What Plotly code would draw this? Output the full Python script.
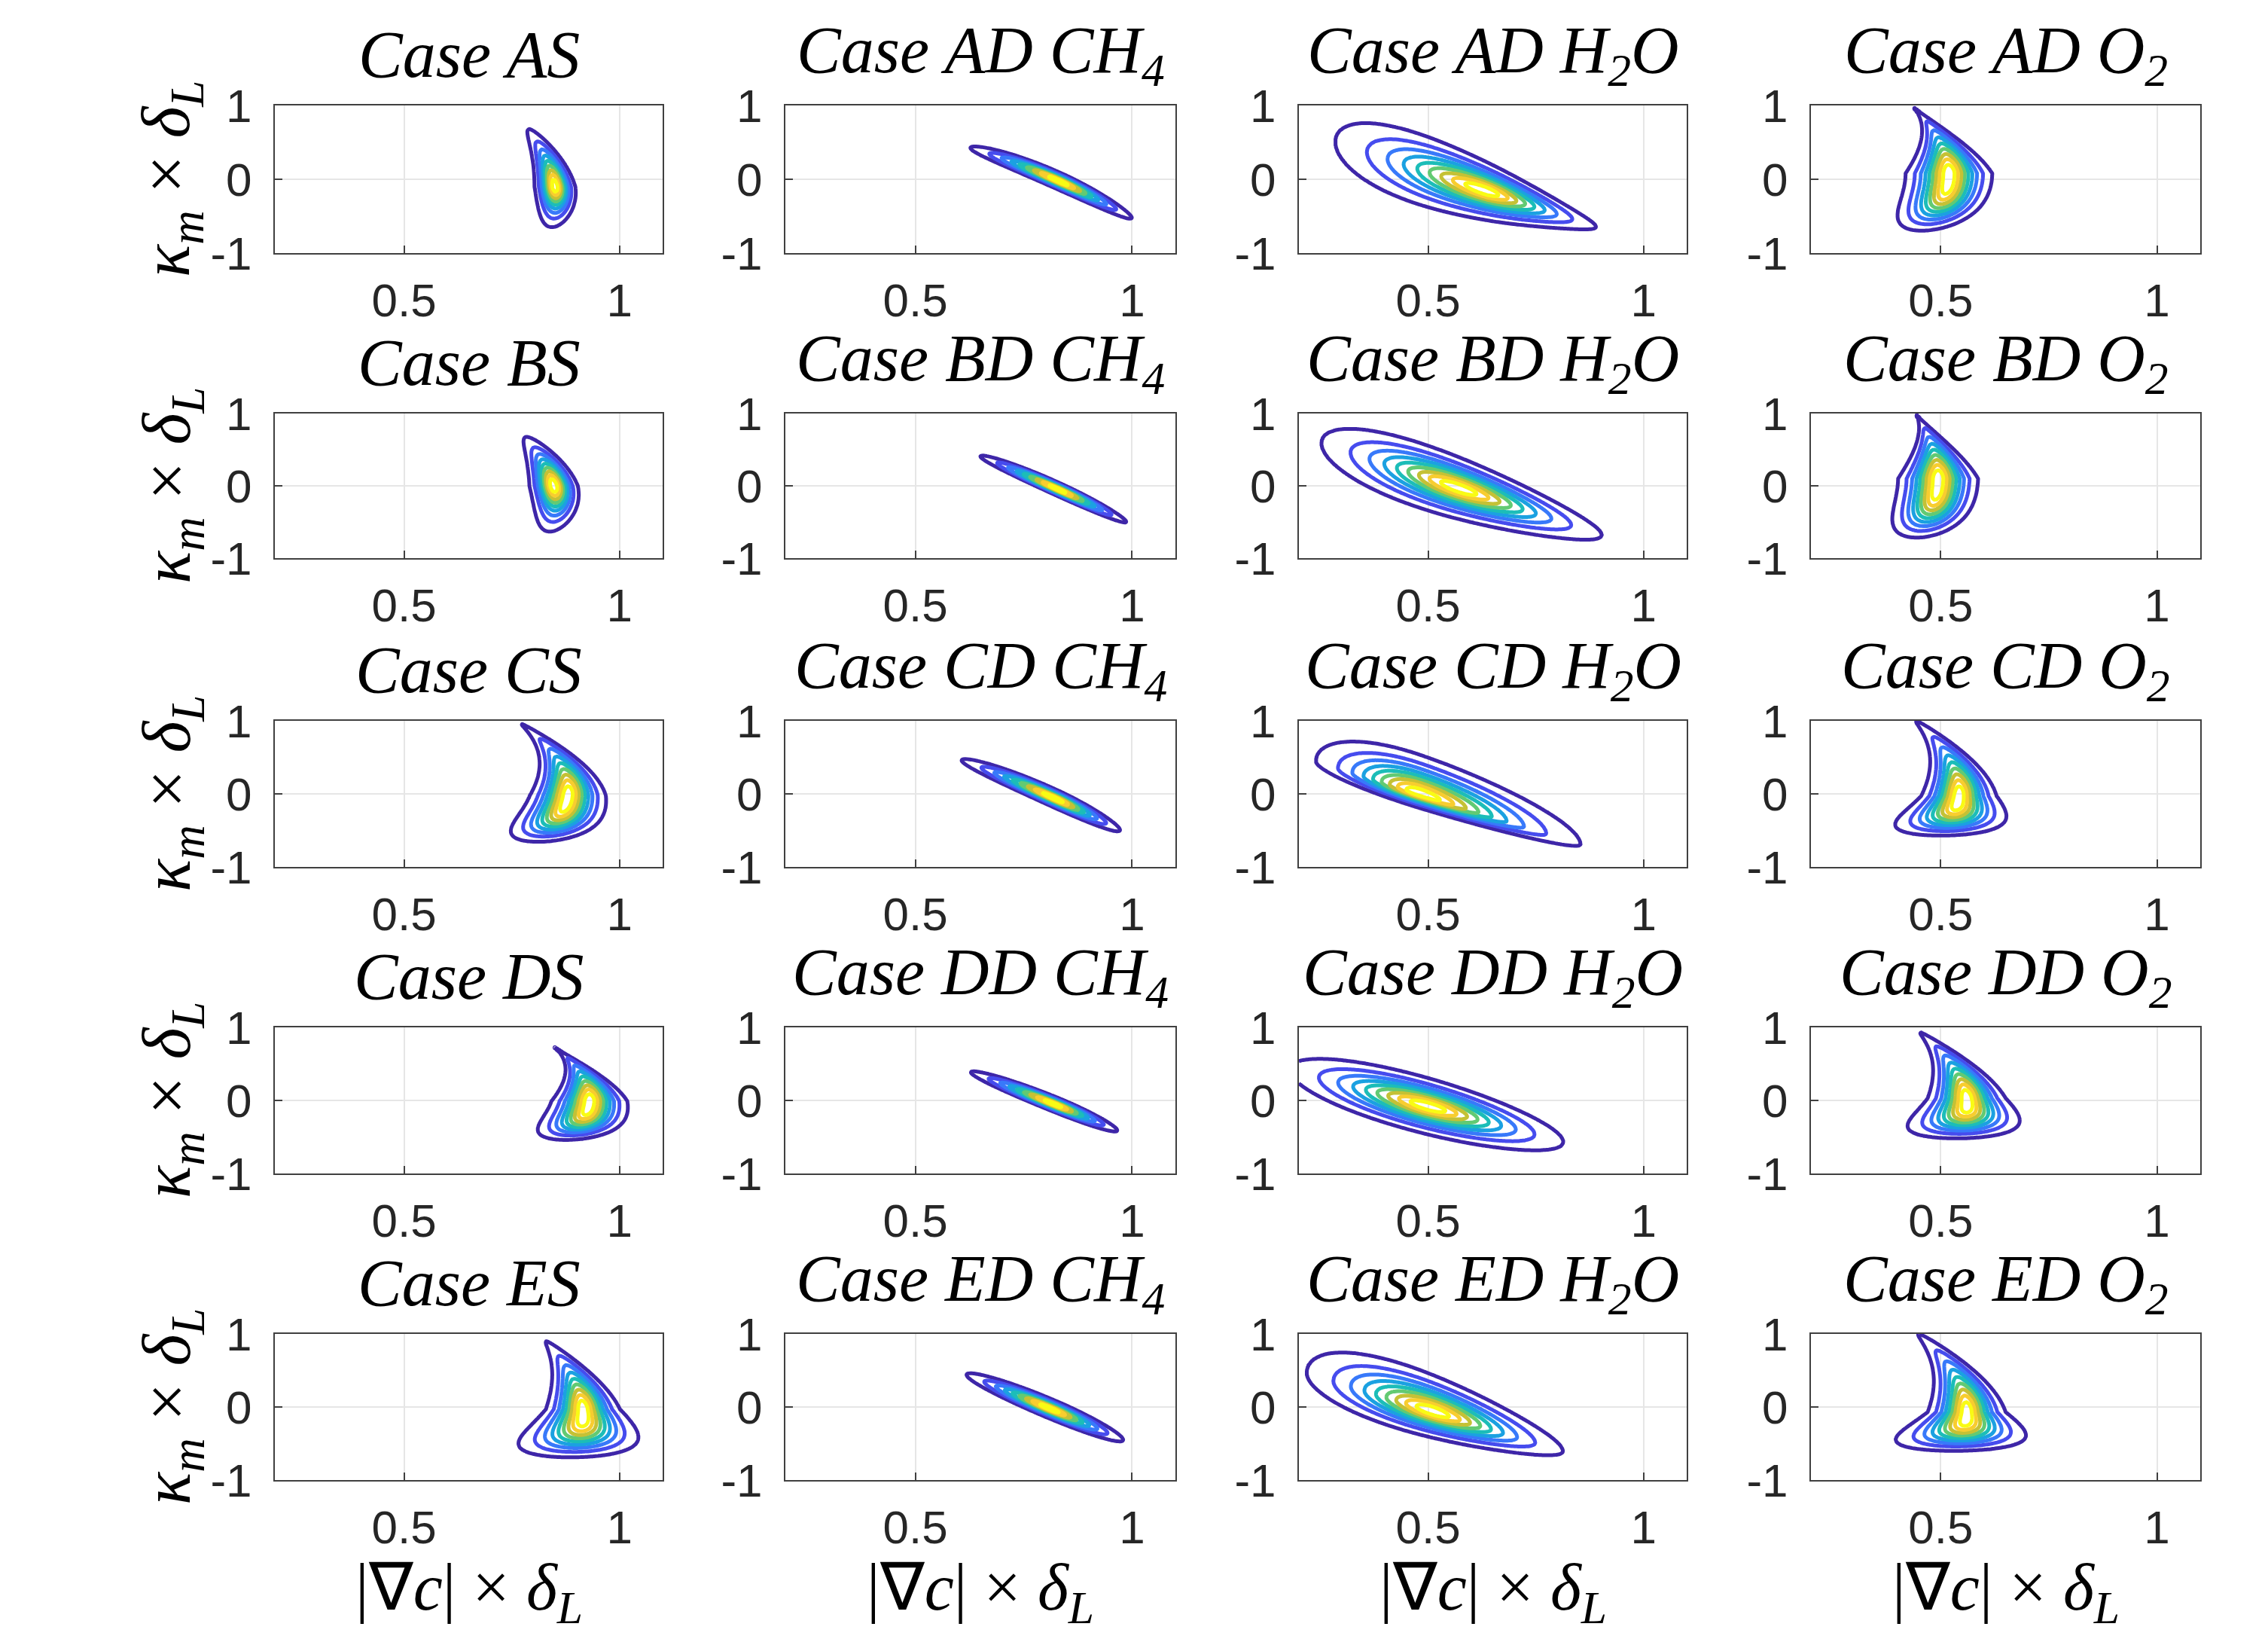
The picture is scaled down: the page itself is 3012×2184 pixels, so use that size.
import numpy as np
import plotly.graph_objects as go

W, H = 3012, 2184
PAGE_OFFSET = 8  # default page margin of the browser body, in px

# ---------------- data ----------------
ROW_CASES = ["A", "B", "C", "D", "E"]
COL_SPECIES = ["S", "D CH<sub>4</sub>", "D H<sub>2</sub>O", "D O<sub>2</sub>"]

# Joint-PDF shape descriptors, panel order row by row (AS, AD CH4, AD H2O, AD O2, BS, ...).
# ORIENT: variable along which the cloud is elongated ("y": vertical clouds, "x": diagonal clouds)
ORIENT = ["y", "x", "x", "y",
          "y", "x", "x", "y",
          "y", "x", "x", "y",
          "y", "x", "x", "y",
          "y", "x", "x", "y"]
PEAK_X = [0.85, 0.832, 0.63, 0.519,
          0.847, 0.83, 0.57, 0.494,
          0.88, 0.821, 0.48, 0.542,
          0.93, 0.82, 0.50, 0.56,
          0.915, 0.81, 0.51, 0.56]
PEAK_Y = [-0.10, -0.026, -0.15, 0.08,
          0.0, -0.05, -0.03, 0.10,
          -0.02, -0.06, 0.0, -0.03,
          -0.01, -0.05, -0.08, 0.03,
          -0.03, -0.02, -0.06, -0.07]
ALONG_LO = [0.256, 0.0955, 0.161, 0.53,
            0.294, 0.084, 0.148, 0.557,
            0.434, 0.0997, 0.112, 0.369,
            0.362, 0.0895, 0.15, 0.375,
            0.45, 0.0895, 0.136, 0.362]
ALONG_HI = [0.363, 0.078, 0.121, 0.42,
            0.314, 0.073, 0.155, 0.415,
            0.459, 0.0704, 0.174, 0.48,
            0.352, 0.068, 0.146, 0.421,
            0.433, 0.079, 0.141, 0.50]
ALONG_LO_POWER = [2, 2, 2, 4,
                  2, 2, 2, 4,
                  4, 2, 2, 4,
                  4, 2, 2, 4,
                  4, 2, 2, 4]
RIDGE_SLOPE = [-0.0244, -2.62, -1.9, 0.0012,
               -0.0373, -2.71, -1.95, 0.0045,
               0.0234, -2.69, -1.85, 0.018,
               0.0145, -2.38, -1.55, -0.018,
               -0.0123, -2.47, -1.8, 0.0035]
RIDGE_BEND = [-0.0674, -2.04, 0.0, -0.1037,
              -0.0814, -0.93, 0.0, -0.0694,
              -0.1362, -1.23, 0.0, -0.1108,
              -0.1685, -0.59, 0.0, -0.112,
              -0.0851, -0.37, 0.0, -0.1002]
ACROSS_LO = [0.022, 0.056, 0.186, 0.0466,
             0.026, 0.045, 0.20, 0.043,
             0.041, 0.06, 0.09, 0.0406,
             0.041, 0.05, 0.18, 0.042,
             0.040, 0.065, 0.168, 0.042]
ACROSS_HI = [0.022, 0.056, 0.186, 0.0466,
             0.026, 0.045, 0.20, 0.043,
             0.041, 0.06, 0.25, 0.0406,
             0.041, 0.05, 0.18, 0.042,
             0.040, 0.065, 0.233, 0.042]
TAPER_HI = [0.51, 0.0, 2.2, 1.1,
            0.5, 0.0, 1.0, 1.1,
            0.85, 0.0, 0.3, 0.75,
            1.35, 0.0, 0.3, 0.88,
            0.79, 0.0, 1.1, 0.67]
TAPER_LO = [0.0, 0.0, 2.2, 0.0,
            0.0, 0.0, 1.0, 0.0,
            0.5, 0.0, 0.3, 1.68,
            0.5, 0.0, 0.3, 1.6,
            1.8, 0.0, 1.1, 2.4]
PDF_TAIL_EXPONENT = 1.5   # <2: heavier tails than a Gaussian (contours spread inwards)

X_TICKS = [0.5, 1]
X_TICK_TEXT = ["0.5", "1"]
Y_TICKS = [-1, 0, 1]
Y_TICK_TEXT = ["-1", "0", "1"]
X_RANGE = [0.2, 1.1]
Y_RANGE = [-1, 1]
LEVELS = dict(start=0.1, end=0.9, size=0.1)

PARULA = [[0.0, "#3e26a8"], [0.111, "#4747eb"], [0.222, "#3e6fff"],
          [0.333, "#2796eb"], [0.444, "#08b4d0"], [0.556, "#31c69f"],
          [0.667, "#80cc59"], [0.778, "#dcbd29"], [0.889, "#fccf30"],
          [1.0, "#f9fb14"]]

# ---------------- layout geometry (pixels in the reference) ----------------
COL_PX = [(365, 880), (1043, 1561), (1725, 2240), (2405, 2922)]
ROW_PX = [(140, 336), (549, 741), (957, 1151), (1364, 1558), (1771, 1965)]

xg = np.linspace(X_RANGE[0], X_RANGE[1], 181)
yg = np.linspace(Y_RANGE[0], Y_RANGE[1], 201)
XX, YY = np.meshgrid(xg, yg)
Q_OUTER = 2 * np.log(10.0)


def pdf_field(i):
    if ORIENT[i] == "y":
        along, across, a0, c0 = YY, XX, PEAK_Y[i], PEAK_X[i]
    else:
        along, across, a0, c0 = XX, YY, PEAK_X[i], PEAK_Y[i]
    d = along - a0
    q_lo = np.abs(d / ALONG_LO[i]) ** ALONG_LO_POWER[i]
    q_hi = (d / ALONG_HI[i]) ** 2
    q_along = np.where(d >= 0, q_hi, q_lo)
    widen = np.clip(1 - TAPER_HI[i] * np.maximum(d, 0)
                    + TAPER_LO[i] * np.maximum(-d, 0), 0.1, None)
    centre = c0 + RIDGE_SLOPE[i] * d + RIDGE_BEND[i] * d ** 2
    off = across - centre
    s = np.where(off >= 0, ACROSS_HI[i], ACROSS_LO[i]) * widen
    q = q_along + (off / s) ** 2
    z = np.exp(-0.5 * Q_OUTER * (q / Q_OUTER) ** (PDF_TAIL_EXPONENT / 2))
    return np.round(z / z.max(), 3)


def fx(px):
    return (px - PAGE_OFFSET) / W


def fy(py):
    return 1 - (py - PAGE_OFFSET) / H


fig = go.Figure()
layout = dict(width=W, height=H, margin=dict(l=0, r=0, t=0, b=0, autoexpand=False),
              paper_bgcolor="white", plot_bgcolor="white", showlegend=False)
annotations = []

AX_COLOR = "#404040"
TICK_FONT = dict(family="Liberation Sans, Arial", size=62, color="#262626")
SERIF = "Liberation Serif, Times New Roman, serif"

for r in range(5):
    for c in range(4):
        i = r * 4 + c
        k = i + 1
        xs = "" if k == 1 else str(k)
        x0, x1 = COL_PX[c]
        y0, y1 = ROW_PX[r]
        layout["xaxis" + xs] = dict(
            domain=[fx(x0), fx(x1)], anchor="y" + xs, range=X_RANGE, automargin=False,
            tickvals=X_TICKS, ticktext=X_TICK_TEXT, tickfont=TICK_FONT,
            showgrid=True, gridcolor="#e6e6e6", gridwidth=2, zeroline=False,
            showline=True, mirror=True, linecolor=AX_COLOR, linewidth=2,
            ticks="inside", ticklen=10, tickwidth=2, tickcolor=AX_COLOR,
            ticklabelstandoff=8)
        layout["yaxis" + xs] = dict(
            domain=[fy(y1), fy(y0)], anchor="x" + xs, range=Y_RANGE, automargin=False,
            tickvals=Y_TICKS, ticktext=Y_TICK_TEXT, tickfont=TICK_FONT,
            showgrid=True, gridcolor="#e6e6e6", gridwidth=2, zeroline=False,
            showline=True, mirror=True, linecolor=AX_COLOR, linewidth=2,
            ticks="inside", ticklen=10, tickwidth=2, tickcolor=AX_COLOR,
            ticklabelstandoff=16)
        fig.add_trace(go.Contour(
            x=xg, y=yg, z=pdf_field(i), xaxis="x" + xs, yaxis="y" + xs,
            contours=dict(coloring="lines", **LEVELS), autocontour=False,
            colorscale=PARULA, zmin=0.0, zmax=0.95, showscale=False,
            line=dict(width=5), hoverinfo="skip"))
        annotations.append(dict(
            text="<i>Case " + ROW_CASES[r] + COL_SPECIES[c] + "</i>",
            xref="paper", yref="paper", x=fx((x0 + x1) / 2),
            y=fy(y0 - 68), xanchor="center", yanchor="middle",
            showarrow=False, font=dict(family=SERIF, size=88, color="black")))
    y0, y1 = ROW_PX[r]
    annotations.append(dict(
        text="<i>κ<sub>m</sub></i> × <i>δ<sub>L</sub></i>",
        xref="paper", yref="paper", x=fx(228), y=fy((y0 + y1) / 2),
        xanchor="center", yanchor="middle", textangle=-90, showarrow=False,
        font=dict(family=SERIF, size=90, color="black")))

for c in range(4):
    x0, x1 = COL_PX[c]
    annotations.append(dict(
        text="|∇<i>c</i>| × <i>δ<sub>L</sub></i>",
        xref="paper", yref="paper", x=fx((x0 + x1) / 2), y=fy(2113),
        xanchor="center", yanchor="middle", showarrow=False,
        font=dict(family=SERIF, size=88, color="black")))

layout["annotations"] = annotations
fig.update_layout(**layout)
fig.write_html("out.html")
